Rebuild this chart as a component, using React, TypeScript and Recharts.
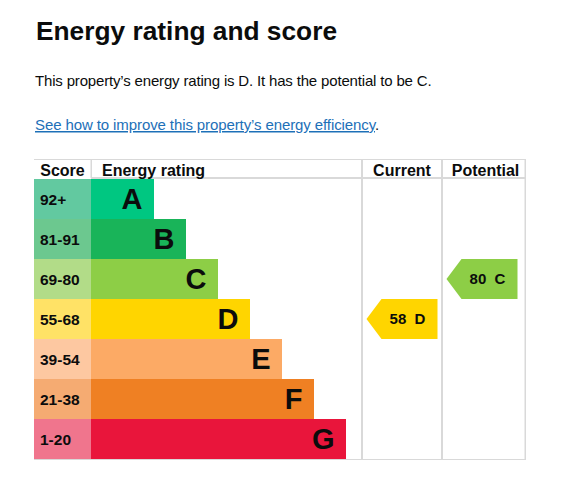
import React from 'react';
import { BarChart, Bar, XAxis, YAxis } from 'recharts';

// ---- data ----
const ratings = ['A', 'B', 'C', 'D', 'E', 'F', 'G'];
const scoreRanges = ['92+', '81-91', '69-80', '55-68', '39-54', '21-38', '1-20'];
const barLengths = [63, 95, 127, 159, 191, 223, 255];
const currentScore = 58;
const currentRating = 'D';
const potentialScore = 80;
const potentialRating = 'C';

// ---- styles ----
const barColors = ['#00c781', '#19b459', '#8dce46', '#ffd500', '#fcaa65', '#ef8023', '#e9153b'];
const scoreColors = ['#62c9a0', '#6cc88f', '#b2dc88', '#ffe266', '#fdc8a1', '#f5ab72', '#f0758d'];
const FONT = '"Liberation Sans", Arial, Helvetica, sans-serif';
const INK = '#0b0c0c';
const LINE = '#d9d9d9';
const SCORE_COL_W = 57;

// column layout in x-axis units (plot spans 0..434)
const X_MAX = 434;
const CURRENT_COL: [number, number] = [271, 351];
const POTENTIAL_COL: [number, number] = [351, 434];

const rows = ratings.map((r, i) => ({
  rating: r,
  bar: barLengths[i],
  current: r === currentRating ? CURRENT_COL : null,
  potential: r === potentialRating ? POTENTIAL_COL : null,
}));

const RatingBar = (props: any) => {
  const { x, y, width, height, index } = props;
  return (
    <g>
      <rect x={x - SCORE_COL_W} y={y} width={SCORE_COL_W} height={height} fill={scoreColors[index]} />
      <text
        x={x - SCORE_COL_W + 6}
        y={y + height / 2 + 5.6}
        fontFamily={FONT}
        fontWeight="bold"
        fontSize={15.5}
        fill={INK}
      >
        {scoreRanges[index]}
      </text>
      <rect x={x} y={y} width={width} height={height} fill={barColors[index]} />
      <text
        x={x + width - 11.5}
        y={y + height / 2 + 10.3}
        textAnchor="end"
        fontFamily={FONT}
        fontWeight="bold"
        fontSize={29}
        fill={INK}
      >
        {ratings[index]}
      </text>
    </g>
  );
};

const makeArrow = (key: 'current' | 'potential', score: number, rating: string) => (props: any) => {
  const { x, y, height, payload } = props;
  if (!payload || !payload[key]) return <g />;
  const x0 = x + 4.5;
  const w = 71;
  const tip = 15;
  const cy = y + height / 2;
  const color = barColors[ratings.indexOf(rating)];
  const pts = `${x0},${cy} ${x0 + tip},${y} ${x0 + w},${y} ${x0 + w},${y + height} ${x0 + tip},${y + height}`;
  return (
    <g>
      <polygon points={pts} fill={color} />
      <text
        x={x0 + 41}
        y={cy + 5.4}
        textAnchor="middle"
        fontFamily={FONT}
        fontWeight="bold"
        fontSize={15}
        fill={INK}
      >
        {`${score}\u00a0\u00a0${rating}`}
      </text>
    </g>
  );
};

const CurrentArrow = makeArrow('current', currentScore, currentRating);
const PotentialArrow = makeArrow('potential', potentialScore, potentialRating);

export default function App() {
  return (
    <div style={{ position: 'absolute', left: 0, top: 0, width: 580, height: 479, background: '#fff' }}>
      <svg width={580} height={479} style={{ position: 'absolute', left: 0, top: 0 }}>
        <text x={36} y={40.3} fontFamily={FONT} fontWeight="bold" fontSize={26.3} fill={INK}>
          Energy rating and score
        </text>
        <text x={35} y={86} fontFamily={FONT} fontSize={15} letterSpacing={-0.17} fill={INK}>
          This property’s energy rating is D. It has the potential to be C.
        </text>
        <text x={35} y={130} fontFamily={FONT} fontSize={15} letterSpacing={-0.1}>
          <tspan fill="#1d70b8" textDecoration="underline" style={{ textDecoration: 'underline' }}>
            See how to improve this property’s energy efficiency
          </tspan>
          <tspan fill={INK}>.</tspan>
        </text>
        {/* table frame */}
        <rect x={34} y={159} width={491} height={1} fill={LINE} />
        <rect x={91} y={177} width={434} height={2} fill={LINE} />
        <rect x={90.5} y={159} width={1.5} height={19} fill={LINE} />
        <rect x={361} y={159} width={2} height={300} fill={LINE} />
        <rect x={441} y={159} width={2} height={300} fill={LINE} />
        <rect x={524.5} y={159} width={1.5} height={300} fill={LINE} />
        <rect x={34} y={459} width={492} height={1} fill={LINE} />
        {/* header */}
        <text x={62.5} y={175.5} textAnchor="middle" fontFamily={FONT} fontWeight="bold" fontSize={16} fill={INK}>
          Score
        </text>
        <text x={102} y={175.5} fontFamily={FONT} fontWeight="bold" fontSize={16} fill={INK}>
          Energy rating
        </text>
        <text x={402} y={175.5} textAnchor="middle" fontFamily={FONT} fontWeight="bold" fontSize={16} fill={INK}>
          Current
        </text>
        <text x={485.5} y={175.5} textAnchor="middle" fontFamily={FONT} fontWeight="bold" fontSize={16} fill={INK}>
          Potential
        </text>
      </svg>
      <div style={{ position: 'absolute', left: 0, top: 0 }}>
        <BarChart
          width={580}
          height={479}
          data={rows}
          layout="vertical"
          margin={{ top: 179, right: 55, bottom: 20, left: 91 }}
          barCategoryGap={0}
          barGap={0}
        >
          <XAxis type="number" domain={[0, X_MAX]} hide />
          <YAxis yAxisId="r" type="category" dataKey="rating" hide />
          <YAxis yAxisId="c" type="category" dataKey="rating" hide />
          <YAxis yAxisId="p" type="category" dataKey="rating" hide />
          <Bar yAxisId="r" dataKey="bar" isAnimationActive={false} shape={RatingBar} />
          <Bar yAxisId="c" dataKey="current" isAnimationActive={false} shape={CurrentArrow} />
          <Bar yAxisId="p" dataKey="potential" isAnimationActive={false} shape={PotentialArrow} />
        </BarChart>
      </div>
    </div>
  );
}
